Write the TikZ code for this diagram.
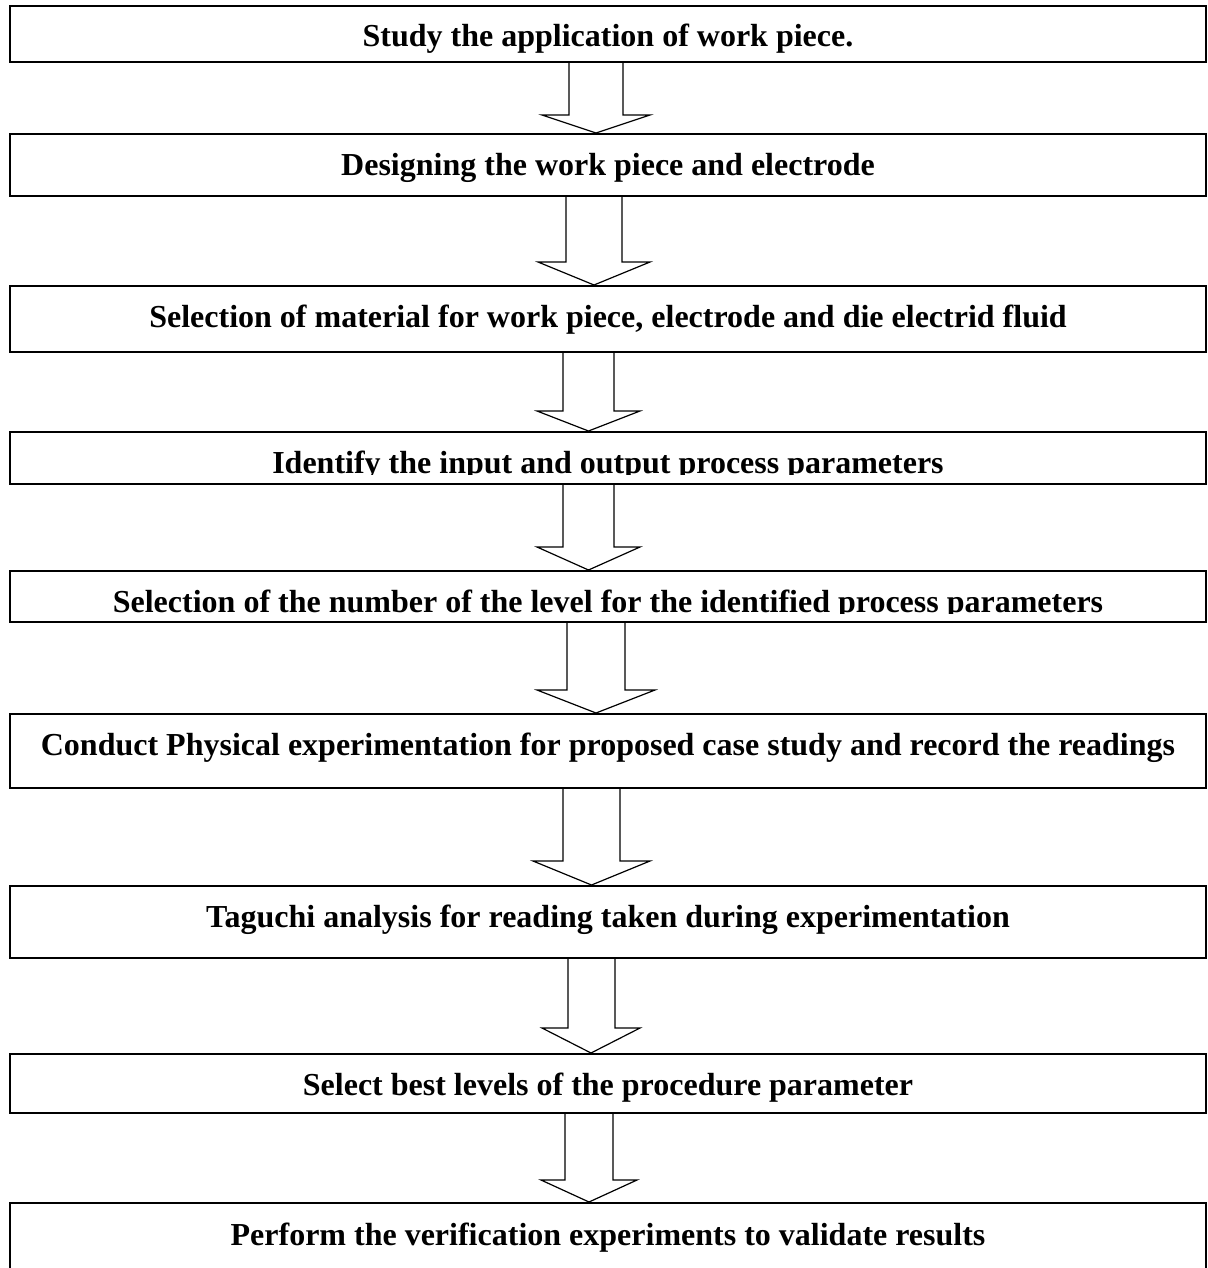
\documentclass[tikz,border=0pt]{standalone}
\usepackage{fontspec}
\setmainfont{Liberation Serif}
\usetikzlibrary{calc}
\tikzset{
  box/.style={draw=black, line width=1pt, rectangle, inner sep=0pt, minimum width=598pt},
  label/.style={anchor=base, inner sep=0pt, font=\fontsize{16pt}{18pt}\selectfont\bfseries},
  arrowline/.style={draw=black, line width=0.6pt, line join=miter}
}
\newcommand\blockarrow[7]{%
  \draw[arrowline] ($(#1.south -| O)+(#3,0)$) -- ($(#2.north -| O)+(#3,-#7)$)
    -- ($(#2.north -| O)+(#5,-#7)$) -- ($(#2.north -| O)+({(#5+#6)/2},0)$)
    -- ($(#2.north -| O)+(#6,-#7)$) -- ($(#2.north -| O)+(#4,-#7)$)
    -- ($(#1.south -| O)+(#4,0)$);}
\begin{document}
\begin{tikzpicture}[x=0.5pt, y=-0.5pt]
\clip (0,0) rectangle (1207,1268);
\fill[white] (0,0) rectangle (1207,1268);
\coordinate (O) at (0,0);
% boxes
\node[box, minimum height=28pt]   (b1) at (608,34) {};
\node[box, minimum height=31pt]   (b2) at (608,165) {};
\node[box, minimum height=33pt]   (b3) at (608,319) {};
\node[box, minimum height=26pt]   (b4) at (608,458) {};
\node[box, minimum height=25.5pt] (b5) at (608,596.5) {};
\node[box, minimum height=37pt]   (b6) at (608,751) {};
\node[box, minimum height=36pt]   (b7) at (608,922) {};
\node[box, minimum height=29.5pt] (b8) at (608,1083.5) {};
\node[box, minimum height=38.5pt] (b9) at (608,1241.5) {};
% texts
\node[label] (t1) at (608,47) {Study the application of work piece.};
\node[label] (t2) at (608,176) {Designing the work piece and electrode};
\node[label] (t3) at (608,327) {Selection of material for work piece, electrode and die electrid fluid};
\begin{scope}
  \clip (0,433) rectangle (1207,474);
  \node[label] (t4) at (608,473) {Identify the input and output process parameters};
\end{scope}
\begin{scope}
  \clip (0,572) rectangle (1207,613);
  \node[label] (t5) at (608,612) {Selection of the number of the level for the identified process parameters};
\end{scope}
\node[label] (t6) at (608,755) {Conduct Physical experimentation for proposed case study and record the readings};
\node[label] (t7) at (608,927) {Taguchi analysis for reading taken during experimentation};
\node[label] (t8) at (608,1095) {Select best levels of the procedure parameter};
\node[label] (t9) at (608,1245) {Perform the verification experiments to validate results};
% arrows
\blockarrow{b1}{b2}{569}{623}{542}{650}{18}
\blockarrow{b2}{b3}{566}{622}{538}{650}{23}
\blockarrow{b3}{b4}{563}{614}{537}{640}{20}
\blockarrow{b4}{b5}{563}{614}{537}{640}{23}
\blockarrow{b5}{b6}{567}{625}{537}{655}{23}
\blockarrow{b6}{b7}{563}{620}{533}{650}{24}
\blockarrow{b7}{b8}{568}{615}{542}{640}{25}
\blockarrow{b8}{b9}{565}{613}{541}{637}{22}
\end{tikzpicture}
\end{document}
